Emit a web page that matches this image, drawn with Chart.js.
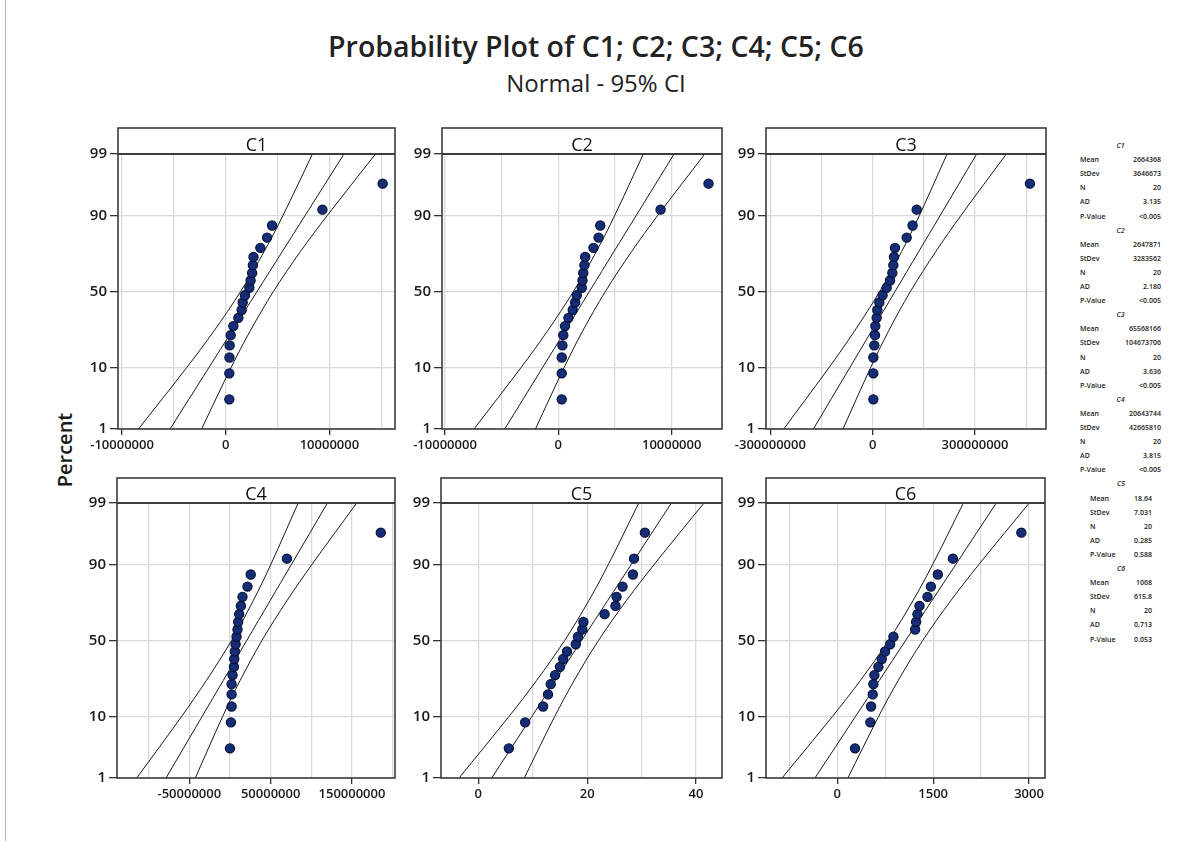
<!DOCTYPE html>
<html>
<head>
<meta charset="utf-8">
<script src="https://cdn.jsdelivr.net/npm/chart.js@4.4.1/dist/chart.umd.min.js"></script>
<style>
  body { margin: 0; width: 1192px; height: 841px; background: #fff; position: relative; overflow: hidden; font-family: "Open Sans", sans-serif; color: #1a1a1a; }
  .edge { position: absolute; left: 5px; top: 0; width: 1px; height: 841px; background: #b8b8b8; }
  #title { position: absolute; left: 0; width: 1192px; top: 32px; text-align: center; font-size: 28.5px; font-weight: 600; line-height: 1; color: #222; }
  #sub { position: absolute; left: 0; width: 1192px; top: 71px; text-align: center; font-size: 24px; line-height: 1; color: #222; }
  #ylab { position: absolute; left: 15px; top: 440px; width: 100px; text-align: center; font-size: 20px; font-weight: 600; line-height: 1; transform: rotate(-90deg); }
  canvas { position: absolute; }
  .st { position: absolute; font-size: 7px; font-weight: 600; line-height: 1; white-space: nowrap; }
</style>
</head>
<body>
<div class="edge"></div>
<div id="title">Probability Plot of C1; C2; C3; C4; C5; C6</div>
<div id="sub">Normal - 95% CI</div>
<div id="ylab">Percent</div>
<div id="panels"></div>
<div id="stats"></div>
<script>
// plotting positions (percent) of the 20 ordered values
const pct = [3.4, 8.3, 13.2, 18.1, 23.0, 27.9, 32.8, 37.7, 42.6, 47.5, 52.5, 57.4, 62.3, 67.2, 72.1, 77.0, 81.9, 86.8, 91.7, 96.6];
const bandPct = [1, 10, 25, 50, 75, 90, 99];
const yTicks = [1, 10, 50, 90, 99];

const c1 = [350000, 350000, 360000, 380000, 480000, 740000, 1220000, 1540000, 1640000, 1860000, 2280000, 2400000, 2550000, 2620000, 2680000, 3340000, 3990000, 4470000, 9330000, 15140000];
const c2 = [300000, 300000, 300000, 360000, 440000, 590000, 890000, 1270000, 1480000, 1630000, 2070000, 2130000, 2200000, 2300000, 2370000, 3100000, 3550000, 3700000, 9020000, 13250000];
const c3 = [2000000, 2000000, 2000000, 4900000, 6800000, 7800000, 11700000, 13700000, 19500000, 29000000, 41000000, 50800000, 57700000, 60600000, 62500000, 65500000, 99700000, 117000000, 129000000, 461000000];
const c4 = [0, 1200000, 2000000, 2000000, 2000000, 3200000, 4900000, 5300000, 6100000, 6900000, 8100000, 9300000, 10100000, 11300000, 13400000, 15400000, 21500000, 25500000, 70000000, 185400000];
const c5 = [5.6, 8.6, 11.9, 12.8, 13.3, 14.1, 15.0, 15.6, 16.3, 17.9, 18.3, 19.1, 19.3, 23.2, 25.2, 25.4, 26.5, 28.4, 28.6, 30.6];
const c6 = [277, 517, 528, 554, 564, 580, 643, 695, 747, 826, 878, 1218, 1233, 1254, 1286, 1411, 1464, 1573, 1809, 2880];

// fitted line and 95% CI bands, x read at bandPct levels
const c1Fit = [-5370000, -1603000, 589000, 3020000, 5451000, 7643000, 11410000];
const c1Lo = [-8410000, -3740000, -1160000, 1440000, 3700000, 5510000, 8370000];
const c1Hi = [-2330000, 530000, 2340000, 4600000, 7200000, 9780000, 14450000];
const c2Fit = [-4730000, -1374000, 576000, 2740000, 4900000, 6854000, 10210000];
const c2Lo = [-7440000, -3270000, -980000, 1330000, 3350000, 4960000, 7500000];
const c2Hi = [-2020000, 520000, 2130000, 4150000, 6460000, 8750000, 12920000];
const c3Fit = [-173900000, -66400000, -3900000, 65500000, 134900000, 197400000, 304900000];
const c3Lo = [-260800000, -127300000, -53900000, 20400000, 84900000, 136500000, 218100000];
const c3Hi = [-87100000, -5500000, 46100000, 110600000, 184900000, 258300000, 391800000];
const c4Fit = [-78650000, -34090000, -8160000, 20600000, 49360000, 75290000, 119850000];
const c4Lo = [-114650000, -59320000, -28880000, 1900000, 28640000, 50060000, 83850000];
const c4Hi = [-42650000, -8860000, 12560000, 39300000, 70080000, 100520000, 155850000];
const c5Fit = [2.45, 9.86, 14.17, 18.96, 23.75, 28.06, 35.47];
const c5Lo = [-3.54, 5.66, 10.72, 15.85, 20.30, 23.86, 29.48];
const c5Hi = [8.44, 14.06, 17.62, 22.07, 27.20, 32.26, 41.46];
const c6Fit = [-350, 287, 658, 1069, 1480, 1851, 2488];
const c6Lo = [-865, -74, 362, 802, 1184, 1490, 1973];
const c6Hi = [165, 648, 954, 1336, 1776, 2212, 3003];

// x tick labels per panel
const c1Ticks = [-10000000, 0, 10000000];
const c2Ticks = [-10000000, 0, 10000000];
const c3Ticks = [-300000000, 0, 300000000];
const c4Ticks = [-50000000, 50000000, 150000000];
const c5Ticks = [0, 20, 40];
const c6Ticks = [0, 1500, 3000];

// summary table
const statNames = ['C1', 'C2', 'C3', 'C4', 'C5', 'C6'];
const statMean = ['2664368', '2647871', '65568166', '20643744', '18.64', '1068'];
const statStDev = ['3646673', '3283562', '104673706', '42665810', '7.031', '615.8'];
const statN = ['20', '20', '20', '20', '20', '20'];
const statAD = ['3.135', '2.180', '3.636', '3.815', '0.285', '0.713'];
const statP = ['<0.005', '<0.005', '<0.005', '<0.005', '0.588', '0.053'];

// inverse normal cdf (Acklam)
function probit(p) {
  const a = [-39.6968302866538, 220.946098424521, -275.928510446969, 138.357751867269, -30.6647980661472, 2.50662827745924];
  const b = [-54.4760987982241, 161.585836858041, -155.698979859887, 66.8013118877197, -13.2806815528857];
  const c = [-0.00778489400243029, -0.322396458041136, -2.40075827716184, -2.54973253934373, 4.37466414146497, 2.93816398269878];
  const d = [0.00778469570904146, 0.32246712907004, 2.445134137143, 3.75440866190742];
  const pl = 0.02425;
  let q, r;
  if (p < pl) {
    q = Math.sqrt(-2 * Math.log(p));
    return (((((c[0]*q+c[1])*q+c[2])*q+c[3])*q+c[4])*q+c[5]) / ((((d[0]*q+d[1])*q+d[2])*q+d[3])*q+1);
  }
  if (p > 1 - pl) {
    q = Math.sqrt(-2 * Math.log(1 - p));
    return -(((((c[0]*q+c[1])*q+c[2])*q+c[3])*q+c[4])*q+c[5]) / ((((d[0]*q+d[1])*q+d[2])*q+d[3])*q+1);
  }
  q = p - 0.5; r = q * q;
  return (((((a[0]*r+a[1])*r+a[2])*r+a[3])*r+a[4])*r+a[5])*q / (((((b[0]*r+b[1])*r+b[2])*r+b[3])*r+b[4])*r+1);
}
function ncdf(z) {
  const t = 1 / (1 + 0.2316419 * Math.abs(z));
  const y = t * (0.319381530 + t * (-0.356563782 + t * (1.781477937 + t * (-1.821255978 + t * 1.330274429))));
  const p = 1 - Math.exp(-z * z / 2) / Math.sqrt(2 * Math.PI) * y;
  return z >= 0 ? p : 1 - p;
}

// normal probability scale
class ProbitScale extends Chart.LinearScale {
  determineDataLimits() { this.min = yTicks[0]; this.max = yTicks[yTicks.length - 1]; }
  buildTicks() { return yTicks.map(v => ({ value: v })); }
  configure() {
    super.configure();
    this._zLo = probit(this.min / 100);
    this._zHi = probit(this.max / 100);
  }
  getPixelForValue(v) {
    return this.getPixelForDecimal((probit(v / 100) - this._zLo) / (this._zHi - this._zLo));
  }
  getValueForPixel(px) {
    const d = this.getDecimalForPixel(px);
    return 100 * ncdf(this._zLo + d * (this._zHi - this._zLo));
  }
}
ProbitScale.id = 'probit';
ProbitScale.defaults = {};
Chart.register(ProbitScale);

const stripPlugin = {
  id: 'strip',
  afterDraw(chart, args, opts) {
    const { ctx, chartArea: a } = chart;
    const top = a.top - opts.h;
    ctx.save();
    ctx.strokeStyle = '#3c3c3c';
    ctx.lineWidth = 1.6;
    ctx.strokeRect(a.left, top, a.right - a.left, a.bottom - top);
    ctx.lineWidth = 2;
    ctx.beginPath(); ctx.moveTo(a.left, a.top); ctx.lineTo(a.right, a.top); ctx.stroke();
    ctx.fillStyle = '#111';
    ctx.font = '18px "Open Sans"';
    ctx.textAlign = 'center';
    ctx.fillText(opts.text, (a.left + a.right) / 2, a.top - 3);
    ctx.restore();
  }
};

const panels = [
  { name: 'C1', data: c1, fit: c1Fit, lo: c1Lo, hi: c1Hi, ticks: c1Ticks, step: 5000000, min: -10390000, max: 16330000, box: [118, 128, 154, 395, 429] },
  { name: 'C2', data: c2, fit: c2Fit, lo: c2Lo, hi: c2Hi, ticks: c2Ticks, step: 5000000, min: -10265000, max: 14440000, box: [442, 128, 154, 722, 429] },
  { name: 'C3', data: c3, fit: c3Fit, lo: c3Lo, hi: c3Hi, ticks: c3Ticks, step: 150000000, min: -312700000, max: 508100000, box: [766, 128, 154, 1046, 429] },
  { name: 'C4', data: c4, fit: c4Fit, lo: c4Lo, hi: c4Hi, ticks: c4Ticks, step: 50000000, min: -138900000, max: 202900000, box: [117, 478, 503, 395, 778] },
  { name: 'C5', data: c5, fit: c5Fit, lo: c5Lo, hi: c5Hi, ticks: c5Ticks, step: 10, min: -6.86, max: 44.77, box: [441, 478, 503, 722, 778] },
  { name: 'C6', data: c6, fit: c6Fit, lo: c6Lo, hi: c6Hi, ticks: c6Ticks, step: 750, min: -1116, max: 3250, box: [766, 478, 503, 1045, 778] }
];

const host = document.getElementById('panels');
const tickFont = { family: '"Open Sans"', size: 13, weight: '600' };

panels.forEach(p => {
  const [left, hTop, y99, right, bottom] = p.box;
  const padR = 12, axW = 50, axH = 30;
  const cv = document.createElement('canvas');
  const w = right - left + axW + padR;
  const h = bottom - (hTop - 2) + axH;
  cv.width = w; cv.height = h;
  cv.style.left = (left - axW) + 'px';
  cv.style.top = (hTop - 2) + 'px';
  cv.style.width = w + 'px'; cv.style.height = h + 'px';
  host.appendChild(cv);

  const line = (xs, order) => ({
    type: 'line',
    data: xs.map((x, i) => ({ x: x, y: bandPct[i] })),
    borderColor: '#1a1a1a', borderWidth: 1, pointRadius: 0, tension: 0.35,
    fill: false, order: order
  });

  new Chart(cv, {
    type: 'scatter',
    data: {
      datasets: [
        {
          data: p.data.map((x, i) => ({ x: x, y: pct[i] })),
          pointRadius: 4.6, pointBackgroundColor: '#142d74', pointBorderColor: '#07103a', pointBorderWidth: 1.2,
          order: 0
        },
        line(p.lo, 1), line(p.fit, 1), line(p.hi, 1)
      ]
    },
    options: {
      responsive: false,
      animation: false,
      events: [],
      layout: { padding: { left: 0, top: y99 - (hTop - 2), right: padR, bottom: 0 } },
      plugins: { legend: { display: false }, tooltip: { enabled: false }, strip: { h: y99 - hTop, text: p.name } },
      scales: {
        x: {
          type: 'linear', min: p.min, max: p.max,
          afterBuildTicks: s => {
            const t = [];
            for (let v = Math.ceil(p.min / p.step) * p.step; v <= p.max; v += p.step) t.push({ value: v });
            s.ticks = t;
          },
          afterFit: s => { s.height = axH; },
          ticks: { autoSkip: false, maxRotation: 0, minRotation: 0, padding: 2, color: '#1a1a1a', font: tickFont,
                   callback: v => p.ticks.includes(v) ? String(v) : '' },
          grid: { color: '#dadada', lineWidth: 1.3, tickLength: 6,
                  tickColor: c => (c.tick && p.ticks.includes(c.tick.value)) ? '#333' : 'rgba(0,0,0,0)' },
          border: { display: false }
        },
        y: {
          type: 'probit', position: 'left',
          afterFit: s => { s.width = axW; },
          ticks: { padding: 3, color: '#1a1a1a', font: { family: '"Open Sans"', size: 15, weight: '600' } },
          grid: { color: '#dadada', lineWidth: 1.3, tickLength: 8, tickColor: '#333' },
          border: { display: false }
        }
      }
    },
    plugins: [stripPlugin]
  });
});

// summary table on the right
const stats = document.getElementById('stats');
const rowLabels = ['Mean', 'StDev', 'N', 'AD', 'P-Value'];
statNames.forEach((nm, k) => {
  const y0 = 142 + 84.6 * k;
  const narrow = k >= 4;
  const lx = narrow ? 1090 : 1080, rx = narrow ? 1152 : 1161;
  const hd = document.createElement('div');
  hd.className = 'st';
  hd.style.left = (lx + rx) / 2 - 10 + 'px'; hd.style.width = '20px'; hd.style.textAlign = 'center';
  hd.style.top = y0 + 'px'; hd.style.fontStyle = 'italic';
  hd.textContent = nm;
  stats.appendChild(hd);
  const vals = [statMean[k], statStDev[k], statN[k], statAD[k], statP[k]];
  rowLabels.forEach((lab, j) => {
    const y = y0 + 14.1 * (j + 1);
    const l = document.createElement('div');
    l.className = 'st'; l.style.left = lx + 'px'; l.style.top = y + 'px'; l.textContent = lab;
    const v = document.createElement('div');
    v.className = 'st'; v.style.left = (rx - 60) + 'px'; v.style.width = '60px'; v.style.textAlign = 'right';
    v.style.top = y + 'px'; v.textContent = vals[j];
    stats.appendChild(l); stats.appendChild(v);
  });
});
</script>
</body>
</html>
